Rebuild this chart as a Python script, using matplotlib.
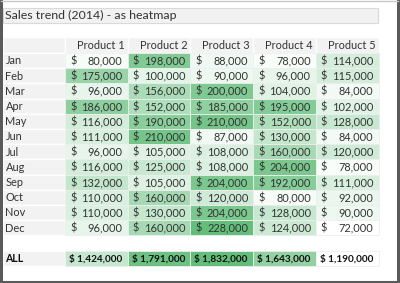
import matplotlib.pyplot as plt
import matplotlib.colors as mcolors
from matplotlib.patches import Rectangle

months = ['Jan', 'Feb', 'Mar', 'Apr', 'May', 'Jun',
          'Jul', 'Aug', 'Sep', 'Oct', 'Nov', 'Dec']
products = ['Product 1', 'Product 2', 'Product 3', 'Product 4', 'Product 5']

p1 = [80000, 175000, 96000, 186000, 116000, 111000, 96000, 116000, 132000, 110000, 110000, 96000]
p2 = [198000, 100000, 156000, 152000, 190000, 210000, 105000, 125000, 105000, 160000, 130000, 160000]
p3 = [88000, 90000, 200000, 185000, 210000, 87000, 108000, 108000, 204000, 120000, 204000, 228000]
p4 = [78000, 96000, 104000, 195000, 152000, 130000, 160000, 204000, 192000, 80000, 128000, 124000]
p5 = [114000, 115000, 84000, 102000, 128000, 84000, 120000, 78000, 111000, 92000, 90000, 72000]
totals = [1424000, 1791000, 1832000, 1643000, 1190000]

series = [p1, p2, p3, p4, p5]

# white -> green, like the excel color scale
cmap = mcolors.LinearSegmentedColormap.from_list('heat', ['#ffffff', '#63be7b'])
norm = mcolors.Normalize(vmin=min(min(s) for s in series), vmax=max(max(s) for s in series))
norm_tot = mcolors.Normalize(vmin=min(totals), vmax=max(totals))

fig = plt.figure(figsize=(4, 2.83), dpi=100)
ax = fig.add_axes([0, 0, 1, 1])
ax.set_xlim(0, 400)
ax.set_ylim(283, 0)
ax.axis('off')

plt.rcParams['font.family'] = ['Lato', 'DejaVu Sans']
txt = '#333333'
fs = 7.9

# outer frame
ax.plot([1, 1, 398, 398], [0, 281.5, 281.5, 0], color='#5a5a5a', lw=2.2)
ax.plot([1, 398], [0.5, 0.5], color='#c8c8c8', lw=1)

# title box
ax.add_patch(Rectangle((3, 8), 375, 15, facecolor='#f2f2f2', edgecolor='#d9d9d9', lw=0.8))
ax.text(5, 15.8, 'Sales trend (2014) - as heatmap', fontsize=8.9, color=txt,
        va='center', ha='left')

x0 = 3          # left edge of label column
lab_w = 62
col_w = 62.7
top = 37
row_h = 15.2

def col_left(j):
    return x0 + lab_w + j * col_w

# header row
ax.add_patch(Rectangle((x0, top), lab_w, 16, facecolor='#f2f2f2', edgecolor='white', lw=1))
for j, name in enumerate(products):
    ax.add_patch(Rectangle((col_left(j), top), col_w, 16, facecolor='#f2f2f2',
                           edgecolor='white', lw=1))
    ax.text(col_left(j) + col_w - 3, top + 8.4, name, fontsize=fs, color=txt,
            ha='right', va='center')

y_start = top + 16
for i, m in enumerate(months):
    y = y_start + i * row_h
    ax.add_patch(Rectangle((x0, y), lab_w, row_h, facecolor='#f2f2f2',
                           edgecolor='white', lw=1))
    ax.text(x0 + 2.5, y + row_h / 2 + 0.4, m, fontsize=fs, color=txt, ha='left', va='center')
    for j, s in enumerate(series):
        ax.add_patch(Rectangle((col_left(j), y), col_w, row_h, facecolor=cmap(norm(s[i])),
                               edgecolor='#eeeeee', lw=0.6))
        ax.text(col_left(j) + 5, y + row_h / 2 + 0.4, '$', fontsize=fs, color=txt,
                ha='left', va='center')
        ax.text(col_left(j) + col_w - 5, y + row_h / 2 + 0.4, f'{s[i]:,}', fontsize=fs,
                color=txt, ha='right', va='center')

# totals row
y_all = y_start + 13 * row_h
ax.add_patch(Rectangle((x0, y_all), lab_w, row_h, facecolor='#f2f2f2', edgecolor='white', lw=1))
ax.text(x0 + 2.5, y_all + row_h / 2 + 0.4, 'ALL', fontsize=7.6, color='#111111',
        ha='left', va='center', fontweight='bold')
for j, t in enumerate(totals):
    ax.add_patch(Rectangle((col_left(j), y_all), col_w, row_h, facecolor=cmap(norm_tot(t)),
                           edgecolor='#eeeeee', lw=0.6))
    ax.text(col_left(j) + col_w - 5.5, y_all + row_h / 2 + 0.4, f'$ {t:,}', fontsize=7.2,
            color='#111111', ha='right', va='center', fontweight='bold')

plt.savefig('out.png', dpi=100)
